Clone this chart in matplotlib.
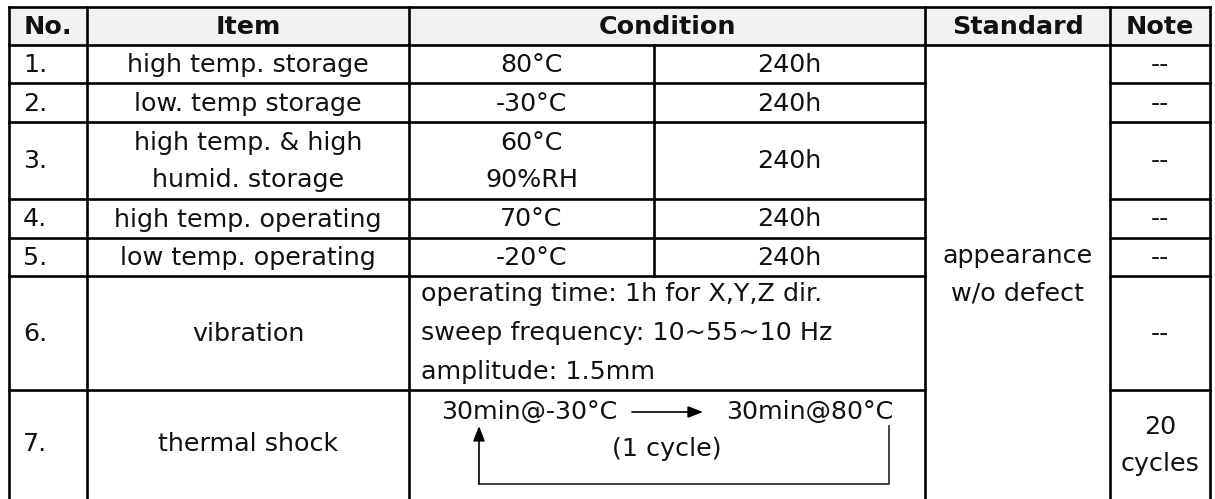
import matplotlib.pyplot as plt
from matplotlib.patches import Rectangle

# table content
headers = ["No.", "Item", "Condition", "Standard", "Note"]
numbers = ["1.", "2.", "3.", "4.", "5.", "6.", "7."]
items = ["high temp. storage", "low. temp storage", "high temp. & high\nhumid. storage",
         "high temp. operating", "low temp. operating", "vibration", "thermal shock"]
cond_a = ["80°C", "-30°C", "60°C\n90%RH", "70°C", "-20°C"]
cond_b = ["240h", "240h", "240h", "240h", "240h"]
vibration_lines = ["operating time: 1h for X,Y,Z dir.",
                   "sweep frequency: 10~55~10 Hz",
                   "amplitude: 1.5mm"]
shock_from, shock_to, shock_label = "30min@-30°C", "30min@80°C", "(1 cycle)"
standard = "appearance\nw/o defect"
notes = ["--", "--", "--", "--", "--", "--", "20\ncycles"]

# layout in pixels
W, H = 1215, 499
col_x = [9, 87, 409, 654, 925, 1110, 1210]
row_y = [7, 45, 83, 122, 199, 238, 276, 390, 500]
pitch = 37

fig = plt.figure(figsize=(W / 100, H / 100), dpi=100)
ax = fig.add_axes([0, 0, 1, 1])
ax.set_xlim(0, W)
ax.set_ylim(H, 0)
ax.axis("off")

fs = 18.3
txt = dict(fontsize=fs, color="#111111", va="center", family="DejaVu Sans")
lw = 1.9


def cell_text(x, yc, s, ha="center"):
    # stack lines around yc with a fixed pitch
    lines = s.split("\n")
    y0 = yc - pitch * (len(lines) - 1) / 2
    for k, line in enumerate(lines):
        ax.text(x, y0 + pitch * k + 1, line, ha=ha, **txt)


# header
ax.add_patch(Rectangle((col_x[0], row_y[0]), col_x[-1] - col_x[0], row_y[1] - row_y[0],
                       facecolor="#f2f2f2", edgecolor="none", zorder=0))
hy = (row_y[0] + row_y[1]) / 2
hx = [(col_x[0] + col_x[1]) / 2, (col_x[1] + col_x[2]) / 2, (col_x[2] + col_x[4]) / 2,
      (col_x[4] + col_x[5]) / 2, (col_x[5] + col_x[6]) / 2]
for x, h in zip(hx, headers):
    ax.text(x, hy + 1, h, ha="center", fontweight="bold", **txt)

# grid lines
def hline(y, x0, x1):
    ax.plot([x0, x1], [y, y], color="black", lw=lw, solid_capstyle="projecting")

def vline(x, y0, y1):
    ax.plot([x, x], [y0, y1], color="black", lw=lw, solid_capstyle="projecting")

hline(row_y[0], col_x[0], col_x[-1])
hline(row_y[1], col_x[0], col_x[-1])
for y in row_y[2:8]:
    hline(y, col_x[0], col_x[4])
    hline(y, col_x[5], col_x[6])
hline(row_y[-1], col_x[0], col_x[-1])
for x in [col_x[0], col_x[1], col_x[2], col_x[4], col_x[5], col_x[6]]:
    vline(x, row_y[0], row_y[-1])
vline(col_x[3], row_y[1], row_y[6])

# body
for i in range(7):
    yc = (row_y[i + 1] + row_y[i + 2]) / 2
    if i == 6:
        yc = 443
    cell_text(col_x[0] + 14, yc, numbers[i], ha="left")
    cell_text((col_x[1] + col_x[2]) / 2, yc, items[i])
    nx = (col_x[5] + col_x[6]) / 2
    cell_text(nx, yc + 2 if i == 6 else yc, notes[i])
    if i < 5:
        cell_text((col_x[2] + col_x[3]) / 2, yc, cond_a[i])
        cell_text((col_x[3] + col_x[4]) / 2, yc, cond_b[i])

for k, line in enumerate(vibration_lines):
    ax.text(col_x[2] + 12, 294 + 39 * k, line, ha="left", **txt)

# thermal shock cycle
ax.text(441, 412, shock_from, ha="left", **txt)
ax.text(893, 412, shock_to, ha="right", **txt)
ax.text(667, 449, shock_label, ha="center", **txt)
ax.annotate("", xy=(703, 412), xytext=(632, 412),
            arrowprops=dict(arrowstyle="-|>,head_length=0.9,head_width=0.35",
                            color="black", lw=1.2, shrinkA=0, shrinkB=0))
ax.plot([889, 889, 479], [426, 484, 484], color="#222222", lw=1.2)
ax.annotate("", xy=(479, 426), xytext=(479, 484),
            arrowprops=dict(arrowstyle="-|>,head_length=0.9,head_width=0.35",
                            color="black", lw=1.2, shrinkA=0, shrinkB=0))

cell_text((col_x[4] + col_x[5]) / 2, 274, standard)

fig.savefig("out.png", dpi=100)
